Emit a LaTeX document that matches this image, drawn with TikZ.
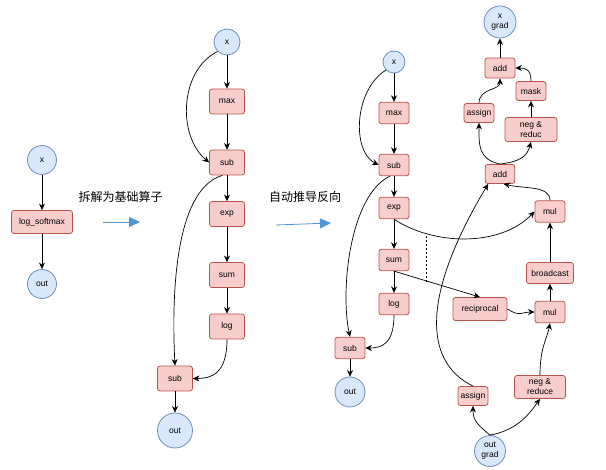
\documentclass[tikz,border=0pt]{standalone}
\usepackage{fontspec}
\setmainfont{Liberation Sans}
\newfontfamily\cjk{Noto Sans CJK SC}
\usetikzlibrary{arrows.meta}
\definecolor{oppink}{HTML}{F8CECC}
\definecolor{opred}{HTML}{B85450}
\definecolor{varblue}{HTML}{DAE8FC}
\definecolor{varline}{HTML}{6C8EBF}
\definecolor{flowblue}{HTML}{4F94D8}

\begin{document}
\begin{tikzpicture}[x=1pt, y=-1pt, font=\fontsize{8.5}{10}\selectfont,
    op/.style={rectangle, rounded corners=2.5pt, draw=opred, fill=oppink, line width=0.8pt, inner sep=0pt, align=center},
    opmid/.style={op, minimum width=35pt, minimum height=25pt},
    opr/.style={op, minimum width=30pt, minimum height=21.5pt},
    var/.style={circle, draw=varline, fill=varblue, line width=0.8pt, inner sep=0pt, align=center},
    edge/.style={->, >={Stealth[length=6.5pt,width=6pt,inset=2pt]}, line width=0.7pt},
    flow/.style={-{Triangle[length=11pt,width=10pt]}, draw=flowblue, line width=0.8pt}]
    \useasboundingbox (0,0) rectangle (606,470);

    % log_softmax
    \node[var, minimum size=29pt] (x_a) at (42,160) {x};
    \node[op, minimum width=61pt, minimum height=23pt, yshift=-62pt] (lsm) at (x_a) {log\_softmax};
    \node[var, minimum size=29pt, yshift=-62pt] (out_a) at (lsm) {out};
    \draw[edge] (x_a) -- (lsm);
    \draw[edge] (lsm) -- (out_a);

    \node[font=\cjk\fontsize{12}{14}\selectfont] (txt_a) at (120.5,197) {拆解为基础算子};
    \coordinate (arr_a1) at (103,222);
    \coordinate (arr_a2) at (140,222);
    \draw[flow] (arr_a1) -- (arr_a2);

    % basic ops
    \node[var, minimum size=26pt] (x_b) at (227,42) {x};
    \node[opmid] (max_b) at (227,101.5) {max};
    \node[opmid, yshift=-61pt] (sub_b) at (max_b) {sub};
    \node[opmid, yshift=-51.5pt] (exp_b) at (sub_b) {exp};
    \node[opmid, yshift=-61pt] (sum_b) at (exp_b) {sum};
    \node[opmid, yshift=-51.5pt] (log_b) at (sum_b) {log};
    \node[opmid] (subo_b) at (175,378.5) {sub};
    \node[var, minimum size=35pt, yshift=-52pt] (out_b) at (subo_b) {out};

    \draw[edge] (x_b) -- (max_b);
    \draw[edge] (max_b) -- (sub_b);
    \draw[edge] (sub_b) -- (exp_b);
    \draw[edge] (exp_b) -- (sum_b);
    \draw[edge] (sum_b) -- (log_b);
    \draw[edge] (subo_b) -- (out_b);
    \draw[edge] (x_b.south west) .. controls +(-38,19) and +(-32,-27) .. (sub_b.west);
    \draw[edge] (sub_b.250) .. controls +(-50,15) and +(-3,-60) .. (subo_b.north);
    \draw[edge] (log_b.south) .. controls +(0,35) and +(18,0) .. (subo_b.east);

    \node[font=\cjk\fontsize{12}{14}\selectfont] (txt_b) at (305,197) {自动推导反向};
    \coordinate (arr_b1) at (276,225);
    \coordinate (arr_b2) at (331,223);
    \draw[flow] (arr_b1) -- (arr_b2);

    % forward
    \node[var, minimum size=22pt] (x_c) at (394,62) {x};
    \node[opr] (max_c) at (394,113) {max};
    \node[opr, yshift=-52pt] (sub_c) at (max_c) {sub};
    \node[opr, yshift=-43pt] (exp_c) at (sub_c) {exp};
    \node[opr, yshift=-52pt] (sum_c) at (exp_c) {sum};
    \node[opr, yshift=-44pt] (log_c) at (sum_c) {log};
    \node[opr] (subo_c) at (350,348) {sub};
    \node[var, minimum size=30pt, yshift=-44pt] (out_c) at (subo_c) {out};

    % backward
    \node[var, minimum size=32pt] (xg) at (500,22) {x\\grad};
    \node[opr, minimum height=20pt] (add_t) at (500,68) {add};
    \node[opr, minimum height=19pt] (mask) at (531,91) {mask};
    \node[opr, minimum height=19pt] (asg_t) at (479,113) {assign};
    \node[opr, minimum width=52pt, minimum height=24pt] (negr_t) at (531,129.5) {neg \&\\reduc};
    \node[opr, minimum width=29.5pt, minimum height=19pt] (add_m) at (500,174) {add};
    \node[opr] (mul_t) at (550,211.5) {mul};
    \node[opr, minimum width=47pt, minimum height=21pt] (bcast) at (550,273) {broadcast};
    \node[opr] (mul_b) at (550,312) {mul};
    \node[opr, minimum width=54pt, minimum height=23pt] (recip) at (480,309) {reciprocal};
    \node[opr, minimum width=51pt, minimum height=23pt] (negr_b) at (540,387) {neg \&\\reduce};
    \node[opr, minimum height=19pt] (asg_b) at (473,396) {assign};
    \node[var, minimum size=31pt] (outg) at (490,451) {out\\grad};

    \coordinate (dash_top) at (426,236);
    \coordinate (dash_bot) at (426,283);
    \draw[dashed, line width=0.5pt, dash pattern=on 2pt off 2pt] (dash_top) -- (dash_bot);

    \draw[edge] (x_c) -- (max_c);
    \draw[edge] (max_c) -- (sub_c);
    \draw[edge] (sub_c) -- (exp_c);
    \draw[edge] (exp_c) -- (sum_c);
    \draw[edge] (sum_c) -- (log_c);
    \draw[edge] (subo_c) -- (out_c);
    \draw[edge] (x_c.south west) .. controls +(-32,20) and +(-27,-14) .. (sub_c.west);
    \draw[edge] (sub_c.250) .. controls +(-40,19) and +(-10,-47) .. (subo_c.north);
    \draw[edge] (log_c.south) .. controls +(0,30) and +(15,0) .. (subo_c.east);
    \draw[edge] (exp_c.south) .. controls +(39,26) and +(-35,36) .. (mul_t.west);
    \draw[edge] (sum_c.south) -- (recip.north);
    \draw[edge] (recip.east) .. controls +(12,8) and +(-12,0) .. (mul_b.west);
    \draw[edge] (mul_b) -- (bcast);
    \draw[edge] (bcast) -- (mul_t);
    \draw[edge] (mul_t.north) .. controls +(0,-15) and +(20,5) .. (add_m.-70);
    \draw[edge] (asg_b.north) .. controls +(-53,-26) and +(-63,105) .. (add_m.-140);
    \draw[edge] (add_m.north) .. controls +(-22,-5) and +(0,22) .. (asg_t.south);
    \draw[edge] (add_m.north) .. controls +(22,-3) and +(-4,14) .. (negr_t.south);
    \draw[edge] (asg_t.north) .. controls +(0,-15) and +(0,12) .. (add_t.south);
    \draw[edge] (negr_t) -- (mask);
    \draw[edge] (mask.north) .. controls +(0,-12) and +(10,0) .. (add_t.east);
    \draw[edge] (add_t) -- (xg);
    \draw[edge] (outg.north) .. controls +(-12,-10) and +(0,15) .. (asg_b.south);
    \draw[edge] (outg.north) .. controls +(28,-5) and +(-10,14) .. (negr_b.south);
    \draw[edge] (negr_b.north) .. controls +(0,-28) and +(-3,16) .. (mul_b.south);
\end{tikzpicture}
\end{document}
